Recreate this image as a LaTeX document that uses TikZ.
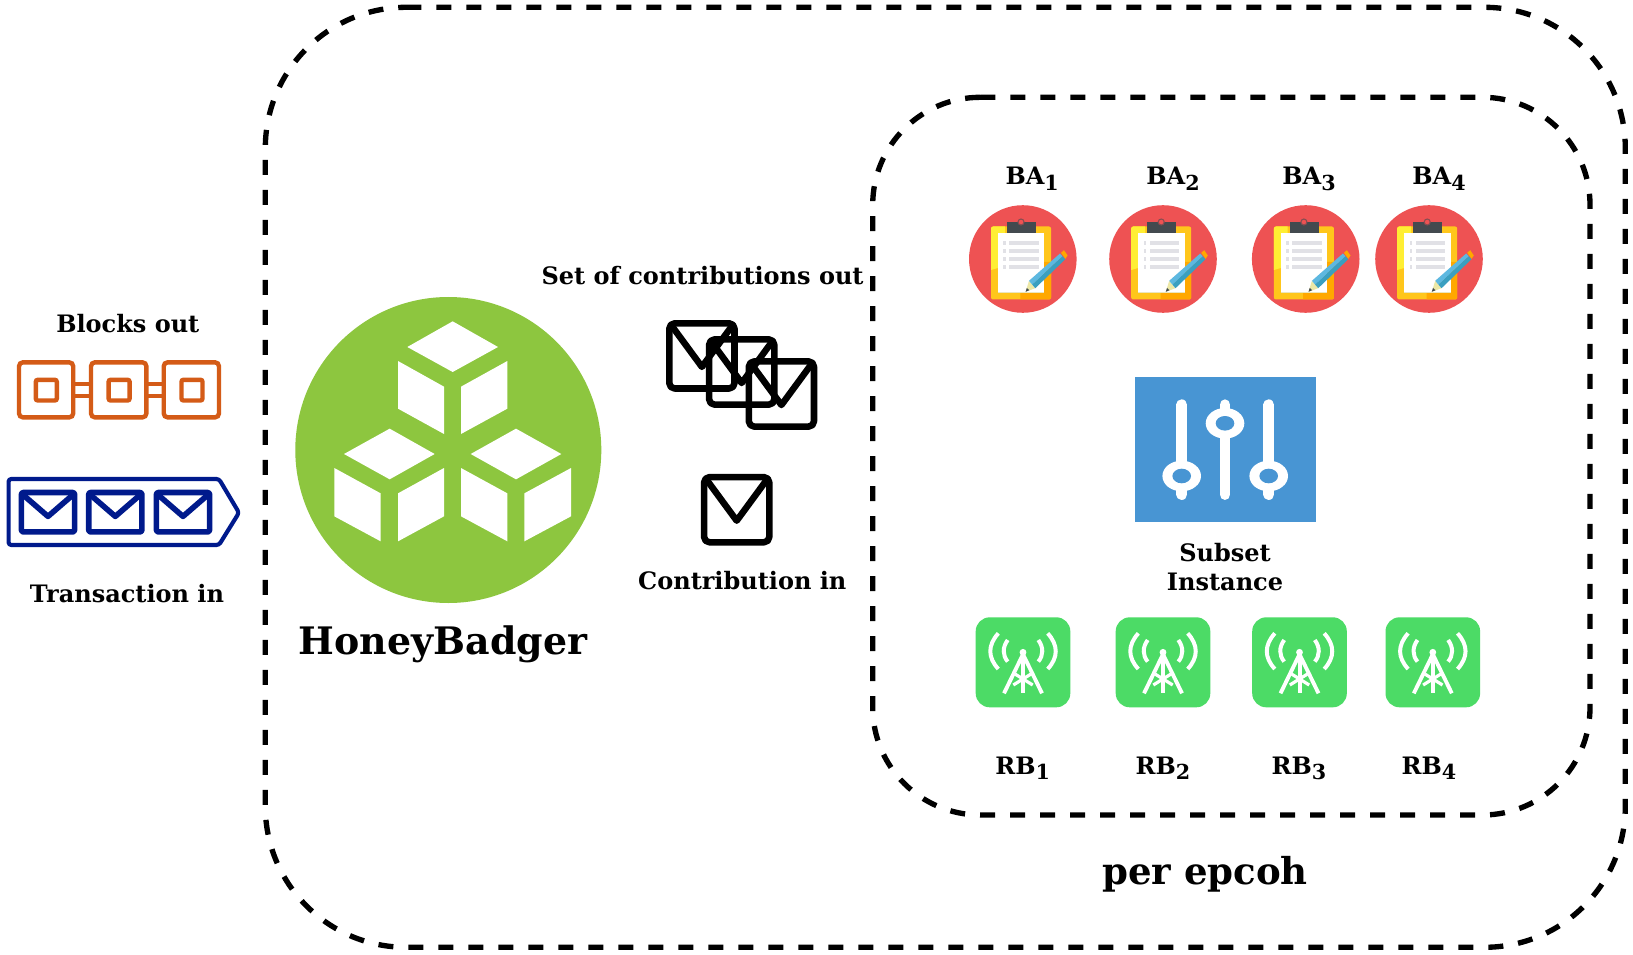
\documentclass[tikz,border=0pt]{standalone}
\usepackage{fontspec}
\setmainfont{DejaVu Serif}
\definecolor{orangeb}{HTML}{D45B17}
\definecolor{navyb}{HTML}{001A8C}
\definecolor{greenb}{HTML}{8DC63F}
\definecolor{redb}{HTML}{EE5253}
\definecolor{yelb}{HTML}{FFC61B}
\definecolor{yelc}{HTML}{FFEE33}
\definecolor{orab}{HTML}{FFA800}
\definecolor{darkb}{HTML}{434A4F}
\definecolor{lineb}{HTML}{E1E1E6}
\definecolor{blueb}{HTML}{4895D3}
\definecolor{greeng}{HTML}{4CDB66}
\definecolor{penl}{HTML}{5DB8E0}
\definecolor{pend}{HTML}{3A9FC0}
\newcommand{\subd}[1]{\raisebox{-4.2pt}{\fontsize{15.5}{16}\selectfont #1}}
\tikzset{
  lbl/.style={font=\fontsize{18}{22}\selectfont\bfseries,anchor=base,inner sep=0pt},
  bigl/.style={font=\fontsize{28.4}{32}\selectfont\bfseries,anchor=base,inner sep=0pt},
  bigm/.style={font=\fontsize{27.8}{32}\selectfont\bfseries,anchor=base,inner sep=0pt},
  dashbox/.style={draw=black,line width=4pt,dash pattern=on 11.25pt off 11.25pt},
  chainb/.style={draw=orangeb,line width=3.3pt,rounded corners=3pt,fill=none},
  navyl/.style={draw=navyb,line join=round},
  blackenv/.style={draw=black,line width=4.9pt,line join=round,line cap=round},
  baicon/.pic={
    \fill[redb] (0,0) circle[radius=53.8];
    \fill[yelb,rounded corners=1.5pt] (-31.8,-32.5) rectangle (28.2,40.5);
    \begin{scope}
      \clip[rounded corners=1.5pt] (-31.8,-32.5) rectangle (28.2,40.5);
      \fill[yelc] (-31.8,-32.5) -- (-18,-32.5) -- (-18,7) -- (-31.8,11) -- cycle;
      \fill[orab] (-2.5,42) -- (-2.5,33) -- (21,33) -- (21,3) -- (29,3) -- (29,42) -- cycle;
    \end{scope}
    \fill[white] (-25.2,-25.8) rectangle (21.5,34.5);
    \fill[yellow!20!lineb] (-25.2,33) rectangle (21.5,34.5);
    \fill[darkb] (-16.2,-36.5) rectangle (12.8,-25.8);
    \draw[darkb!60!redb,line width=0.8pt,fill=redb] (-1.8,-37) circle[radius=3];
    \foreach \ly in {-16.2,-8.2,0,8}{
      \fill[lineb] (-19.5,\ly-2) rectangle (-16.8,\ly+2);
      \fill[lineb] (-13.5,\ly-2) rectangle (16,\ly+2);
    }
    \fill[yellow!30!lineb] (2.8,32.8) -- (6.2,21.8) -- (12.5,29.2) -- cycle;
    \fill[darkb] (2.8,32.8) -- (4,29) -- (6.5,31.2) -- cycle;
    \fill[penl] (6.2,21.8) -- (37.2,-5.5) -- (39.8,-2.7) -- (9.3,25.5) -- cycle;
    \fill[pend] (9.3,25.5) -- (39.8,-2.7) -- (42.5,0.2) -- (12.5,29.2) -- cycle;
    \fill[orab] (38.2,-6.2) -- (41.2,-8.8) -- (44.8,-3.5) -- (42.5,-0.2) -- cycle;
  },
  rbicon/.pic={
    \fill[greeng,rounded corners=10.5pt] (-47.3,-45) rectangle (47.3,45);
    \begin{scope}[white,line width=3pt,fill=white]
      \draw (-15.3,-22.3) .. controls (-20.6,-15) and (-20.6,-7) .. (-15.3,-0.7);
      \draw (15.3,-22.3) .. controls (20.6,-15) and (20.6,-7) .. (15.3,-0.7);
      \draw (-24.7,-29) .. controls (-35.4,-17) and (-35.4,-5) .. (-24.7,6.7);
      \draw (24.7,-29) .. controls (35.4,-17) and (35.4,-5) .. (24.7,6.7);
      \fill (0,-10) circle[radius=3.4];
      \draw[line width=3pt] (0,-10) -- (0,30.5);
      \draw[line width=2.9pt,line join=miter] (-19,31) -- (0,-8) -- (19,31);
      \draw[line width=2.4pt] (-8,11.7) -- (9.7,22.7);
      \draw[line width=2.4pt] (8,11.7) -- (-9.7,22.7);
    \end{scope}
  },
  envicon/.pic={
    \draw[blackenv,rounded corners=4pt] (-32.6,-32.6) rectangle (32.6,32.6);
    \draw[blackenv] (-30.5,-30.5) -- (0,11) -- (30.5,-30.5);
  },
  navyenv/.pic={
    \draw[navyl,line width=4.2pt,rounded corners=1.5pt] (-26.6,-19.7) rectangle (26.6,19.7);
    \draw[navyl,line width=4.2pt] (-24.5,-17) -- (0,4.2) -- (24.5,-17);
  }
}
\begin{document}
\begin{tikzpicture}[x=0.75pt,y=-0.75pt]
\useasboundingbox (0,0) rectangle (1633,955);
\fill[white] (0,0) rectangle (1633,955);

% dashed frames
\draw[dashbox] (406.3,7.3) -- (1484.3,7.3) .. controls (1562.2,7.3) and (1625.3,70.4) .. (1625.3,148.3) -- (1625.3,806.3) .. controls (1625.3,884.2) and (1562.2,947.3) .. (1484.3,947.3) -- (406.3,947.3) .. controls (328.4,947.3) and (265.3,884.2) .. (265.3,806.3) -- (265.3,148.3) .. controls (265.3,70.4) and (328.4,7.3) .. (406.3,7.3);
\draw[dashbox] (980.3,97.3) -- (1482.4,97.3) .. controls (1541.8,97.3) and (1590,145.5) .. (1590,204.9) -- (1590,707.4) .. controls (1590,766.8) and (1541.8,815) .. (1482.4,815) -- (980.3,815) .. controls (920.9,815) and (872.7,766.8) .. (872.7,707.4) -- (872.7,204.9) .. controls (872.7,145.5) and (920.9,97.3) .. (980.3,97.3);

% chain
\node[lbl] (blocksout) at (127.8,332) {Blocks out};
\draw[chainb] (19,362.3) rectangle (73.2,417.4);
\draw[chainb] (91,362.3) rectangle (146.4,417.4);
\draw[chainb] (163.7,362.3) rectangle (219,417.4);
\draw[chainb,rounded corners=1.5pt] (35.8,379.8) rectangle (56.8,400.5);
\draw[chainb,rounded corners=1.5pt] (108.6,379.8) rectangle (129.6,400.5);
\draw[chainb,rounded corners=1.5pt] (181.5,379.8) rectangle (202.5,400.5);
\foreach \xa/\xb in {73.2/91,146.4/163.7}{
  \draw[orangeb,line width=3.3pt] (\xa,384) -- (\xb,384);
  \draw[orangeb,line width=3.3pt] (\xa,395.7) -- (\xb,395.7);
}

% transactions
\draw[navyl,line width=3.1pt,rounded corners=2pt] (8.6,479) -- (219,479) -- (239,512.7) -- (219,545) -- (8.6,545) -- cycle;
\pic (tx1) at (48,512.2) {navyenv};
\pic (tx2) at (115.3,512.2) {navyenv};
\pic (tx3) at (183,512.2) {navyenv};
\node[lbl] (transin) at (127,602.5) {Transaction in};

% HoneyBadger logo
\fill[greenb] (448.3,450) circle[radius=153];
\begin{scope}[xshift=210pt,yshift=-210pt,x=0.25pt,y=-0.25pt]
  \fill[white] (518,124) -- (654,201) -- (518,276) -- (382,201) -- cycle;
  \fill[white] (354,243) -- (492,320) -- (492,462) -- (354,386) -- cycle;
  \fill[white] (543,320) -- (682,243) -- (682,386) -- (543,462) -- cycle;
  \fill[white] (329,446) -- (464,522) -- (329,598) -- (192,522) -- cycle;
  \fill[white] (163,564) -- (302,640) -- (302,784) -- (163,709) -- cycle;
  \fill[white] (354,640) -- (492,564) -- (492,709) -- (354,784) -- cycle;
  \fill[white] (708,446) -- (844,522) -- (708,598) -- (572,522) -- cycle;
  \fill[white] (543,564) -- (682,640) -- (682,784) -- (543,709) -- cycle;
  \fill[white] (733,640) -- (873,564) -- (873,709) -- (733,784) -- cycle;
\end{scope}
\node[bigl] (hb) at (443,654) {HoneyBadger};

% envelopes
\node[lbl] (setout) at (702.6,285) {Set of contributions out};
\pic (e1) at (701.9,355.9) {envicon};
\pic (e2) at (741.7,372) {envicon};
\pic (e3) at (781.4,394) {envicon};
\pic (e4) at (736.7,509.7) {envicon};
\node[lbl] (contin) at (742.3,589) {Contribution in};

% BA
\pic (ba1) at (1022.8,259) {baicon};
\pic (ba2) at (1163,259) {baicon};
\pic (ba3) at (1305.7,259) {baicon};
\pic (ba4) at (1429,259) {baicon};
\node[lbl] (la1) at (1032.2,185) {BA\subd{1}};
\node[lbl] (la2) at (1173,185) {BA\subd{2}};
\node[lbl] (la3) at (1309,185) {BA\subd{3}};
\node[lbl] (la4) at (1439,185) {BA\subd{4}};

% subset
\fill[blueb] (1135.3,377.3) rectangle (1315.7,522.3);
\foreach \sx/\sy in {1181.7/476,1225/423.3,1268.7/476}{
  \draw[white,line width=8.2pt,line cap=round] (\sx,404.8) -- (\sx,494.5);
  \fill[white] (\sx,\sy) ellipse[x radius=19.3,y radius=15.3];
  \fill[blueb] (\sx,\sy) ellipse[x radius=9.3,y radius=7.3];
}
\node[lbl] (sub) at (1225,561.2) {Subset};
\node[lbl] (inst) at (1225,590.5) {Instance};

% RB
\pic (rb1) at (1023,662.3) {rbicon};
\pic (rb2) at (1163,662.3) {rbicon};
\pic (rb3) at (1299.5,662.3) {rbicon};
\pic (rb4) at (1432.8,662.3) {rbicon};
\node[lbl] (lb1) at (1022.7,774) {RB\subd{1}};
\node[lbl] (lb2) at (1163,774) {RB\subd{2}};
\node[lbl] (lb3) at (1299,774) {RB\subd{3}};
\node[lbl] (lb4) at (1429,774) {RB\subd{4}};

\node[bigm] (epoch) at (1205,884) {per epcoh};
\end{tikzpicture}
\end{document}
